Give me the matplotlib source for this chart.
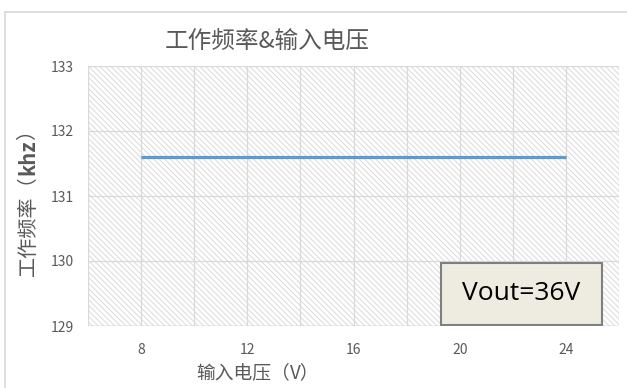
import matplotlib
matplotlib.use("Agg")
import matplotlib.pyplot as plt
from matplotlib.patches import Rectangle
from matplotlib.lines import Line2D

plt.rcParams['font.family'] = ['Noto Sans CJK SC', 'DejaVu Sans']
plt.rcParams['hatch.linewidth'] = 0.7

# data: switching frequency vs input voltage
vin = [8, 24]
freq_khz = [131.6, 131.6]
x_ticks = [8, 12, 16, 20, 24]
y_ticks = [129, 130, 131, 132, 133]
title = "工作频率&输入电压"
note = "Vout=36V"

TXT = '#595959'
GRID = '#D9D9D9'

fig = plt.figure(figsize=(6.27, 3.88), dpi=100)
fig.patch.set_facecolor('white')
ax = fig.add_axes([88 / 627, 1 - 326 / 388, 531 / 627, 260 / 388])

# hatched plot area background
ax.add_patch(Rectangle((0, 0), 1, 1, transform=ax.transAxes, facecolor='white',
                       edgecolor='#DADADA', lw=0, hatch='\\' * 6, zorder=0))

ax.set_xlim(6, 26)
ax.set_ylim(129, 133)
for xv in range(6, 27, 2):
    ax.axvline(xv, color=GRID, lw=0.9, zorder=1)
for yv in y_ticks:
    ax.axhline(yv, color=GRID, lw=0.9, zorder=1)
ax.axhline(129, color='#BFBFBF', lw=1.0, zorder=1)

ax.plot(vin, freq_khz, color='#5B9BD5', lw=2.3, solid_capstyle='butt', zorder=3)

ax.set_xticks(x_ticks)
ax.set_yticks(y_ticks)
ax.tick_params(length=0, labelsize=10, colors=TXT, pad=10)
ax.tick_params(axis='x', pad=12)
for s in ax.spines.values():
    s.set_visible(False)

# annotation box
ax.add_patch(Rectangle((19.3, 129.02), 6.05, 0.95, facecolor='#EEECE1',
                       edgecolor='#7F7F7F', lw=1.5, zorder=3))
ax.text(22.33, 129.5, note, fontsize=19, color='black',
        family=['Open Sans', 'DejaVu Sans'], ha='center', va='center', zorder=4)

fig.text(267 / 627, 1 - 42 / 388, title, fontsize=17, color=TXT,
         ha='center', va='center')
fig.text(290 / 627, 1 - 373 / 388, "输入电压（", fontsize=13.5, color=TXT,
         ha='right', va='center')
fig.text(290 / 627, 1 - 373 / 388, "V）", fontsize=13.5, color=TXT,
         ha='left', va='center')

# y label: CJK part normal, unit bold
t1 = fig.text(28 / 627, 1 - 276 / 388, "工作频率（", fontsize=14.5, color=TXT,
              rotation=90, ha='center', va='bottom')
t2 = fig.text(28 / 627, 0, "khz", fontsize=14.5, color=TXT, rotation=90,
              fontweight='bold', ha='center', va='bottom')
fig.canvas.draw()
r = fig.canvas.get_renderer()
b1 = t1.get_window_extent(r)
t2.set_position((28 / 627, b1.y1 / fig.bbox.height))
fig.canvas.draw()
b2 = t2.get_window_extent(r)
fig.text(28 / 627, b2.y1 / fig.bbox.height, "）", fontsize=14.5, color=TXT,
         rotation=90, ha='center', va='bottom')

# light outer frame (top and left)
fig.add_artist(Line2D([5 / 627, 1], [1 - 12 / 388] * 2, color=GRID, lw=1.2))
fig.add_artist(Line2D([5 / 627] * 2, [0, 1 - 12 / 388], color=GRID, lw=1.2))

fig.savefig("out.png", dpi=100)
